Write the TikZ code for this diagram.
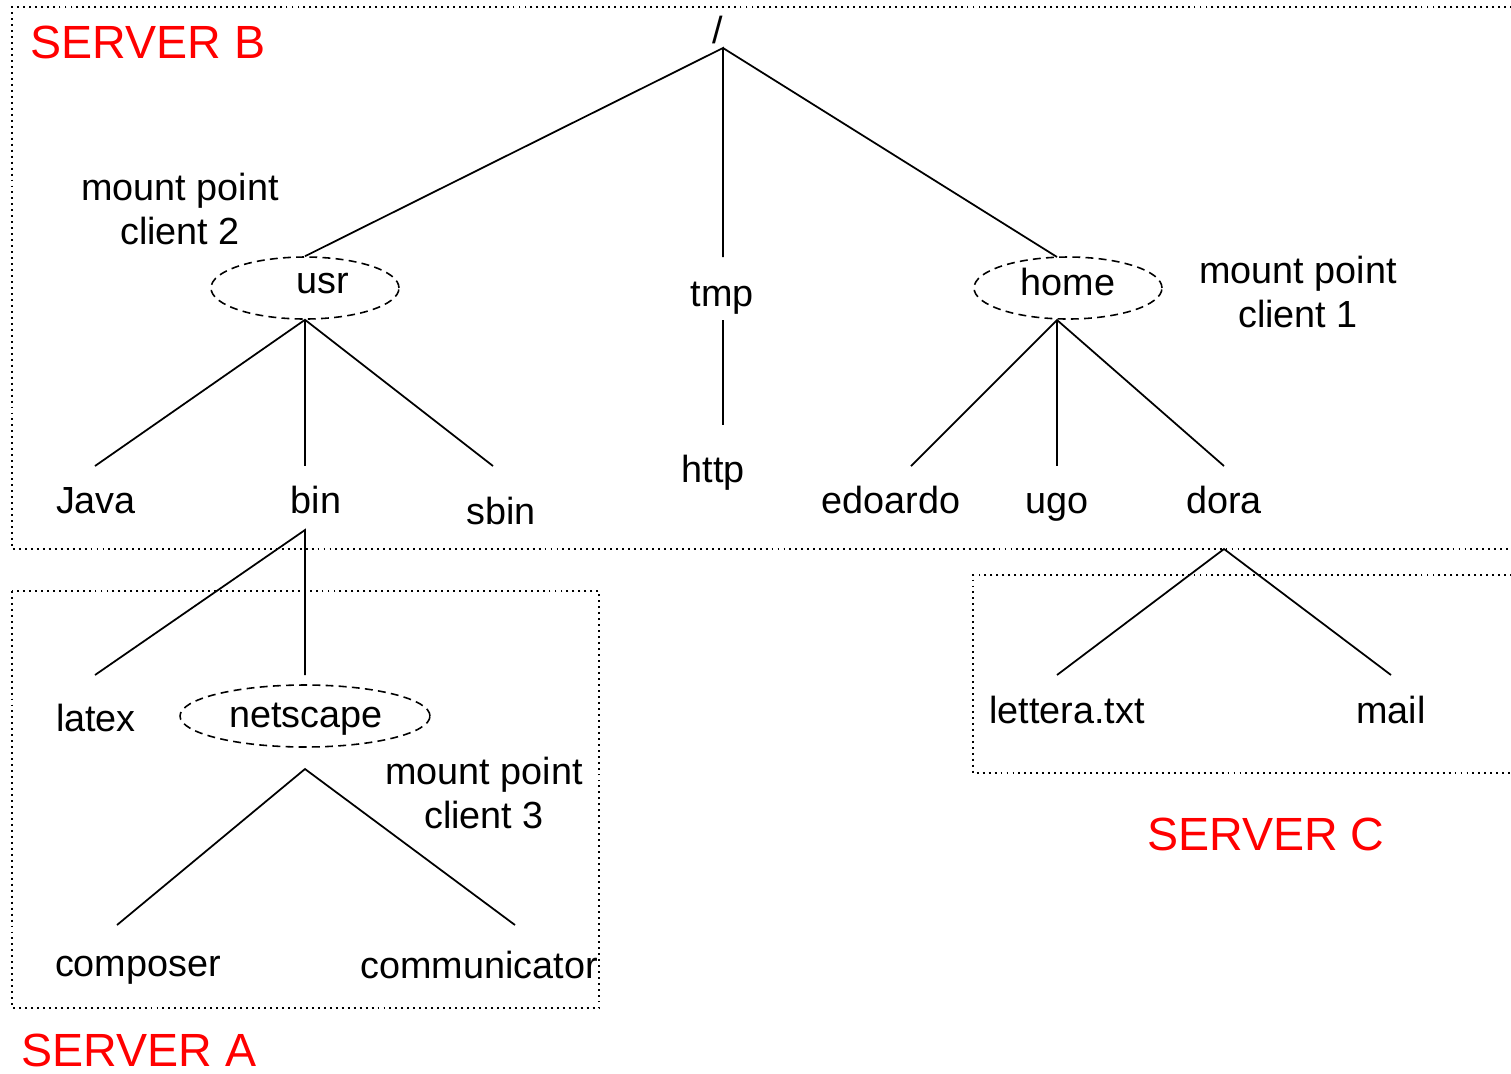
\documentclass[tikz,border=0pt]{standalone}
\usepackage{fontspec}
\setmainfont{Liberation Sans}
\usetikzlibrary{shapes.geometric}
\definecolor{srvred}{RGB}{255,0,0}
\begin{document}
\begin{tikzpicture}[x=0.02cm,y=-0.02cm,
  lbl/.style={inner sep=0pt, text depth=0pt, font=\fontsize{21.5}{25}\selectfont, align=center},
  srv/.style={inner sep=0pt, font=\fontsize{26.5}{30}\selectfont, text=srvred},
  edge/.style={line width=1pt},
  mnt/.style={draw, ellipse, inner sep=0pt, line width=0.9pt, dash pattern=on 4.5pt off 3pt},
  zone/.style={line width=1.1pt, dash pattern=on 1.1pt off 2.3pt}]
\useasboundingbox (0,0) rectangle (1511,1073);
\clip (0,0) rectangle (1511,1073);

% server areas
\draw[zone] (1530,7) -- (12,7) -- (12,549) -- (1530,549);
\draw[zone] (12,591) rectangle (599,1008);
\draw[zone] (1530,575) -- (973,575) -- (973,773) -- (1530,773);

\node[srv] (srvB) at (148,42) {SERVER B};
\node[srv] (srvC) at (1266,834) {SERVER C};
\node[srv] (srvA) at (139,1050) {SERVER A};

% root level
\node[lbl] (root) at (718,30) {/};
\coordinate (rootpt) at (723,48);

\node[mnt, minimum width=3.76cm, minimum height=1.24cm] (usr) at (305,288) {};
\node[lbl] (usrt) at (323,283) {usr};
\node[lbl] (tmp) at (722,294) {tmp};
\coordinate (tmptop) at (723,257);
\coordinate (tmpbot) at (723,320);
\node[mnt, minimum width=3.76cm, minimum height=1.24cm] (home) at (1068,288) {};
\coordinate (homein) at (1057,257);
\coordinate (homeout) at (1057,320);
\node[lbl] (homet) at (1068,282) {home};

\node[lbl] (mp2) at (180,209) {mount point\\client 2};
\node[lbl] (mp1) at (1298,292) {mount point\\client 1};

\draw[edge] (usr.north) -- (rootpt) -- (tmptop);
\draw[edge] (rootpt) -- (homein);

% /usr subtree
\node[lbl] (java) at (96,500) {Java};
\node[lbl] (bin) at (316,500) {bin};
\node[lbl] (sbin) at (501,511) {sbin};
\coordinate (javatop) at (95,466);
\coordinate (bintop) at (305,466);
\coordinate (sbintop) at (493,466);
\draw[edge] (javatop) -- (usr.south) -- (sbintop);
\draw[edge] (usr.south) -- (bintop);

% /tmp subtree
\node[lbl] (http) at (713,469) {http};
\coordinate (httptop) at (723,425);
\draw[edge] (tmpbot) -- (httptop);

% /home subtree
\node[lbl] (edoardo) at (891,500) {edoardo};
\node[lbl] (ugo) at (1057,503) {ugo};
\node[lbl] (dora) at (1224,500) {dora};
\coordinate (edtop) at (911,466);
\coordinate (ugotop) at (1057,466);
\coordinate (doratop) at (1224,466);
\draw[edge] (edtop) -- (homeout) -- (doratop);
\draw[edge] (homeout) -- (ugotop);

% /usr/bin subtree
\coordinate (binout) at (305,530);
\node[lbl] (latex) at (96,718) {latex};
\coordinate (latextop) at (95,675);
\node[mnt, minimum width=5cm, minimum height=1.24cm] (netscape) at (305,716) {};
\node[lbl] (netscapet) at (306,715) {netscape};
\coordinate (nsin) at (305,675);
\coordinate (nsout) at (305,769);
\draw[edge] (latextop) -- (binout) -- (nsin);
\node[lbl] (mp3) at (484,793) {mount point\\client 3};

\node[lbl] (composer) at (138,966) {composer};
\node[lbl] (communicator) at (479,965) {communicator};
\coordinate (comptop) at (117,925);
\coordinate (commtop) at (515,925);
\draw[edge] (comptop) -- (nsout) -- (commtop);

% /home/dora subtree
\coordinate (doraout) at (1224,549);
\node[lbl] (lettera) at (1067,710) {lettera.txt};
\node[lbl] (mail) at (1391,710) {mail};
\coordinate (lettop) at (1057,675);
\coordinate (mailtop) at (1391,675);
\draw[edge] (lettop) -- (doraout) -- (mailtop);
\end{tikzpicture}
\end{document}
